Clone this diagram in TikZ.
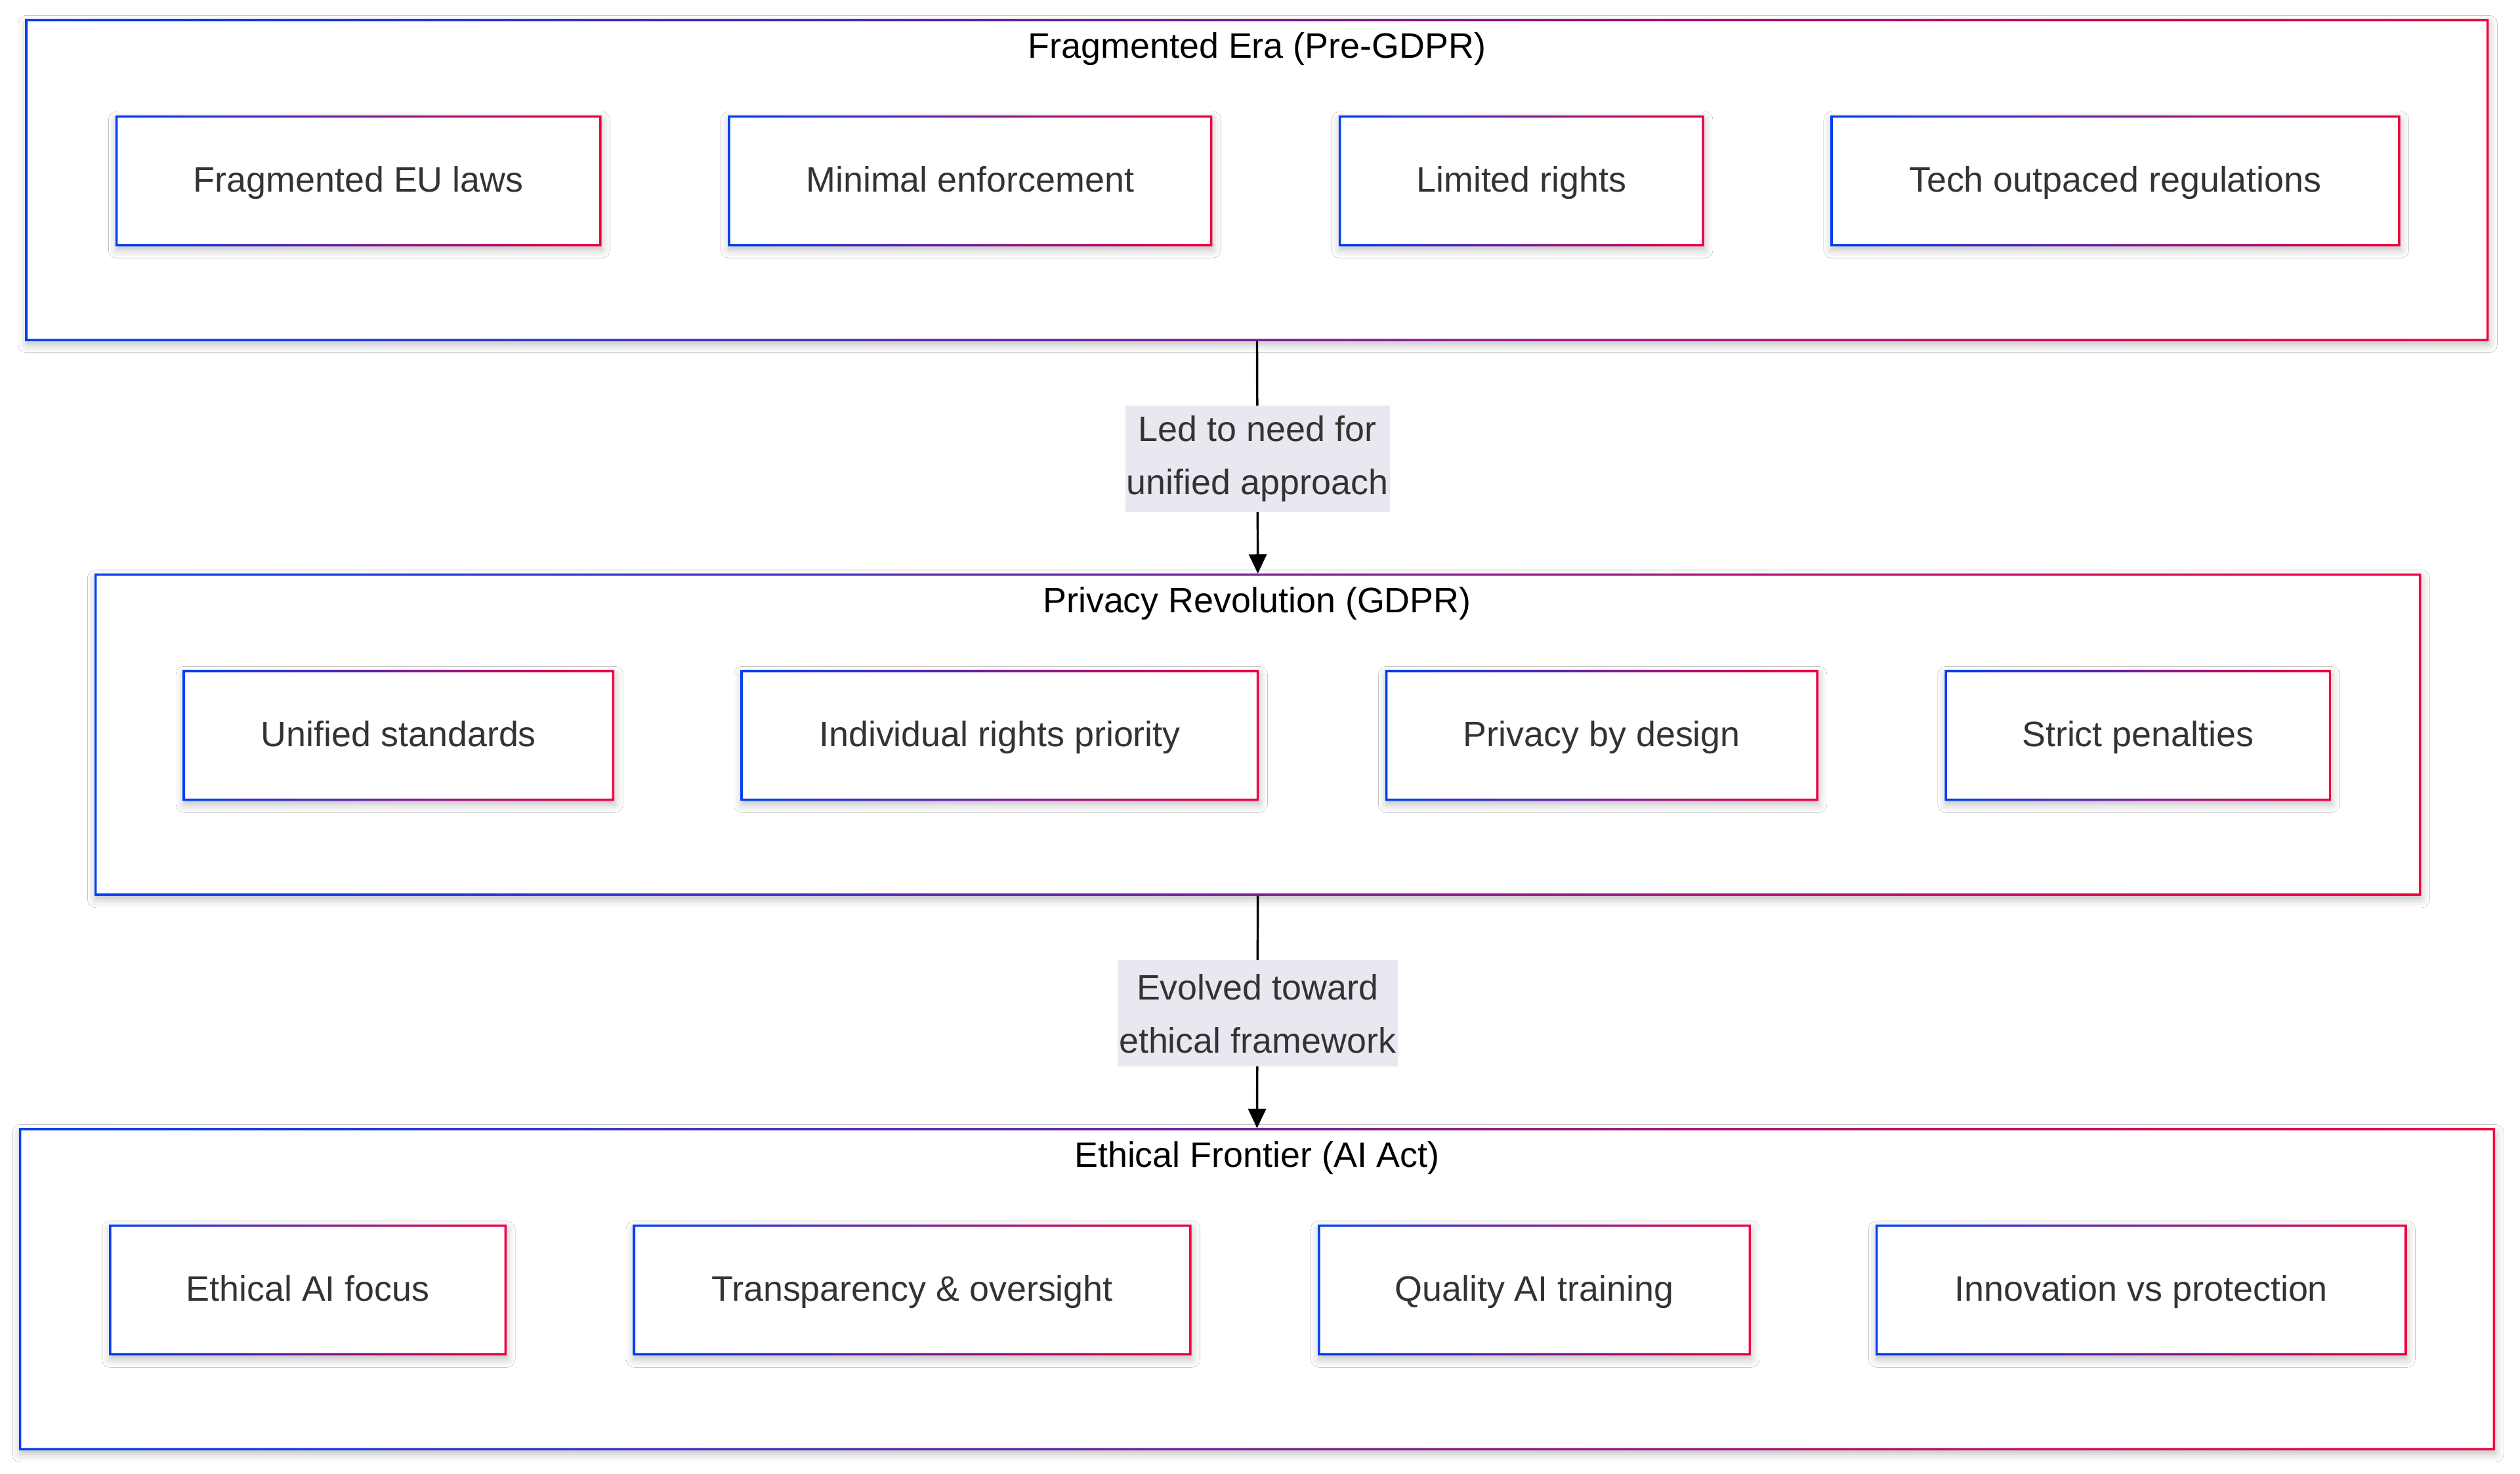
\documentclass[tikz,border=0pt]{standalone}
\usepackage{fontspec}
\setmainfont{Liberation Sans}
\usetikzlibrary{arrows.meta,shadows.blur}
\definecolor{gblue}{RGB}{0,64,240}
\definecolor{gred}{RGB}{240,0,64}
\definecolor{txt}{RGB}{51,51,51}
\definecolor{lblbg}{RGB}{232,232,240}
\tikzset{
  box/.style={rectangle, fill=white, inner sep=0pt, text=txt,
    font=\fontsize{22}{33}\selectfont, text height=19pt, text depth=5pt,
    blur shadow={shadow xshift=0.5bp, shadow yshift=-2.5bp, shadow blur radius=5bp, shadow opacity=25}},
  gborder/.style={left color=gblue, right color=gred, even odd rule},
  ctitle/.style={text=black, font=\fontsize{22}{33}\selectfont, inner sep=0pt, anchor=base},
  elabel/.style={fill=lblbg, text=txt, font=\fontsize{22}{33}\selectfont, align=center,
    inner xsep=1bp, inner ysep=0pt, minimum height=66bp, yshift=-1bp},
  link/.style={draw=black, line width=1.4bp, -{Triangle[width=11bp,length=12bp]}}
}
\newcommand{\gbox}[6]{%
  \node[box, minimum width={(#4-#2)*0.997bp}, minimum height={(#5-#3)*0.997bp}] (#1) at ({(#2+#4)/2},{(#3+#5)/2}) {#6};
  \shade[gborder] (#1.south west) rectangle (#1.north east)
    ([shift={(1.4bp,1.4bp)}]#1.south west) rectangle ([shift={(-1.4bp,-1.4bp)}]#1.north east);
}
\begin{document}
\begin{tikzpicture}[x=0.997bp,y=-0.997bp]
\fill[white] (0bp,0bp) rectangle (1563bp,-914bp);
\useasboundingbox (0bp,0bp) rectangle (1563bp,-914bp);
% clusters
\gbox{c1}{16}{12}{1548}{212}{}
\gbox{c2}{59}{357}{1506}{557}{}
\gbox{c3}{12}{702}{1552}{902}{}
\node[ctitle] (t1) at (782,36) {Fragmented Era (Pre-GDPR)};
\node[ctitle] (t2) at (782,381) {Privacy Revolution (GDPR)};
\node[ctitle] (t3) at (782,726) {Ethical Frontier (AI Act)};
% row 1
\gbox{a1}{72}{72}{374}{153}{Fragmented EU laws}
\gbox{a2}{453}{72}{754}{153}{Minimal enforcement}
\gbox{a3}{833}{72}{1060}{153}{Limited rights}
\gbox{a4}{1139}{72}{1493}{153}{Tech outpaced regulations}
% row 2
\gbox{b1}{114}{417}{382}{498}{Unified standards}
\gbox{b2}{461}{417}{783}{498}{Individual rights priority}
\gbox{b3}{862}{417}{1131}{498}{Privacy by design}
\gbox{b4}{1210}{417}{1450}{498}{Strict penalties}
% row 3
\gbox{d1}{68}{762}{315}{843}{Ethical AI focus}
\gbox{d2}{394}{762}{741}{843}{Transparency \& oversight}
\gbox{d3}{820}{762}{1089}{843}{Quality AI training}
\gbox{d4}{1167}{762}{1497}{843}{Innovation vs protection}
% edges
\draw[link] (c1.south) -- node[elabel] (l1) {Led to need for\\unified approach} (c2.north);
\draw[link] (c2.south) -- node[elabel] (l2) {Evolved toward\\ethical framework} (c3.north);
\end{tikzpicture}
\end{document}
